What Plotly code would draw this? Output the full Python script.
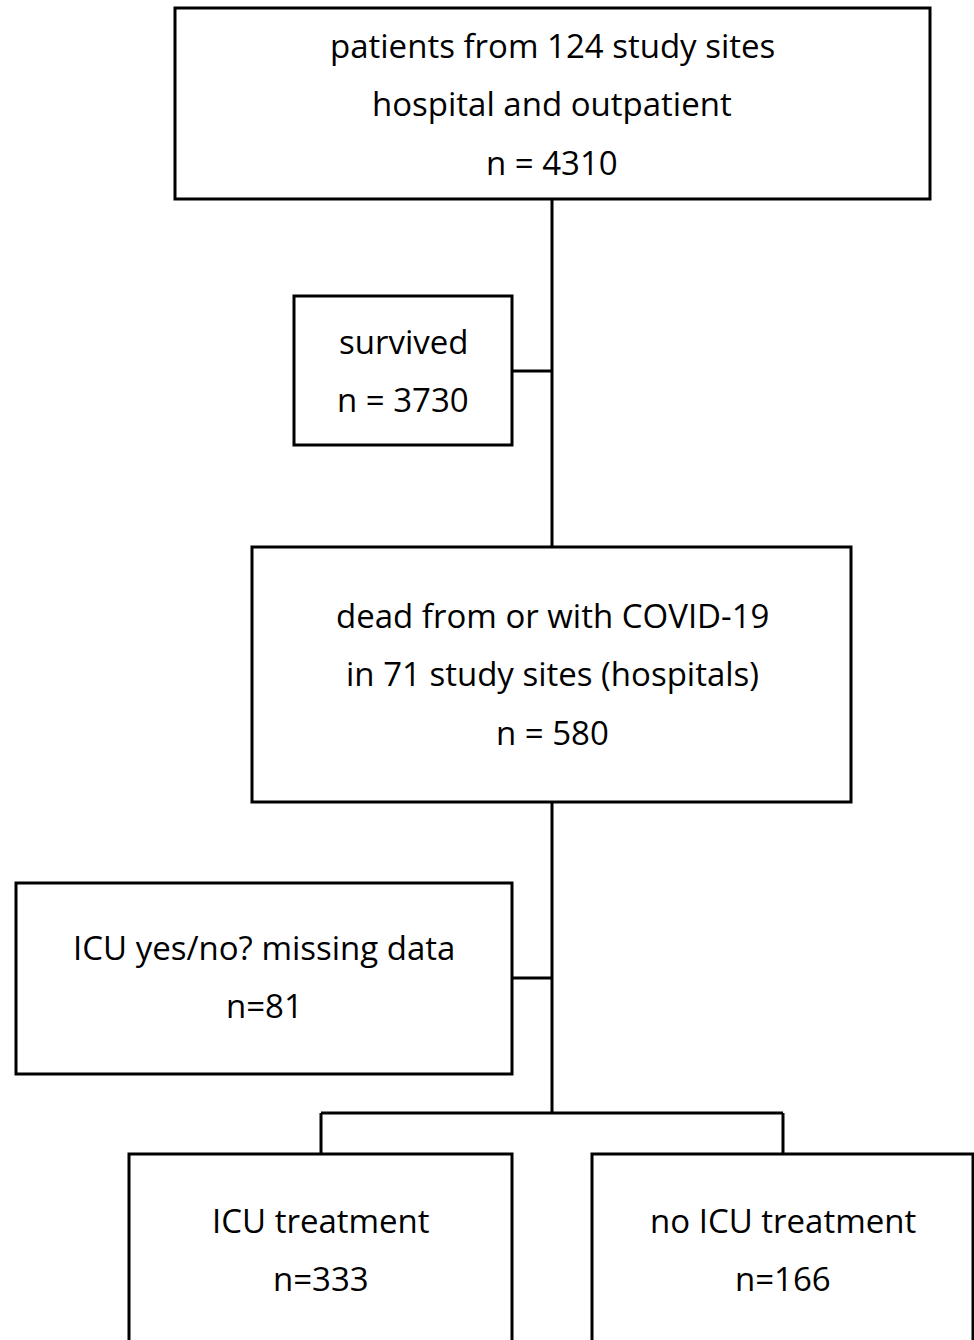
import plotly.graph_objects as go

# ---- content ----
box_names = ["all", "survived", "dead", "missing", "icu", "noicu"]
box_lines = [
    ["patients from 124 study sites", "hospital and outpatient", "n = 4310"],
    ["survived", "n = 3730"],
    ["dead from or with COVID-19", "in 71 study sites (hospitals)", "n = 580"],
    ["ICU yes/no? missing data", "n=81"],
    ["ICU treatment", "n=333"],
    ["no ICU treatment", "n=166"],
]

# ---- layout (pixel coords, y downwards) ----
box_x0 = [175, 294, 252, 16, 129, 592]
box_x1 = [930, 512, 851, 512, 512, 973]
box_y0 = [8, 296, 547, 883, 1154, 1154]
box_y1 = [199, 445, 802, 1074, 1360, 1360]
text_cx = [552, 403, 552, 264, 321, 783]
text_y0 = [45, 341, 615, 947, 1220, 1220]
line_step = 58.5

# connector segments (x0, y0, x1, y1)
connectors = [
    (552, 199, 552, 547),
    (512, 371, 552, 371),
    (552, 802, 552, 1113),
    (512, 978, 552, 978),
    (321, 1113, 783, 1113),
    (321, 1113, 321, 1154),
    (783, 1113, 783, 1154),
]

W, H = 974, 1340
LW = 3
FONT = "Open Sans"
FS = 33

fig = go.Figure()
fig.add_trace(go.Scatter(x=[0, W], y=[0, H], mode="markers",
                         marker=dict(opacity=0), hoverinfo="skip", showlegend=False))

shapes = []
for x0, x1, y0, y1 in zip(box_x0, box_x1, box_y0, box_y1):
    shapes.append(dict(type="rect", xref="x", yref="y", x0=x0, x1=x1, y0=y0, y1=y1,
                       line=dict(color="black", width=LW), fillcolor="white", layer="below"))
for x0, y0, x1, y1 in connectors:
    shapes.append(dict(type="line", xref="x", yref="y", x0=x0, y0=y0, x1=x1, y1=y1,
                       line=dict(color="black", width=LW)))

annotations = []
for lines, cx, ty in zip(box_lines, text_cx, text_y0):
    for i, t in enumerate(lines):
        annotations.append(dict(x=cx, y=ty + i * line_step, xref="x", yref="y", text=t,
                                showarrow=False, xanchor="center", yanchor="middle",
                                font=dict(family=FONT, size=FS, color="black")))

fig.update_layout(
    width=W, height=H, margin=dict(l=0, r=0, t=0, b=0),
    paper_bgcolor="white", plot_bgcolor="white",
    xaxis=dict(range=[0, W], visible=False, fixedrange=True),
    yaxis=dict(range=[H, 0], visible=False, fixedrange=True),
    shapes=shapes, annotations=annotations, showlegend=False,
)

fig.write_html("out.html", config={"displayModeBar": False},
               post_script="document.body.style.margin='0';document.body.style.overflow='hidden';")
